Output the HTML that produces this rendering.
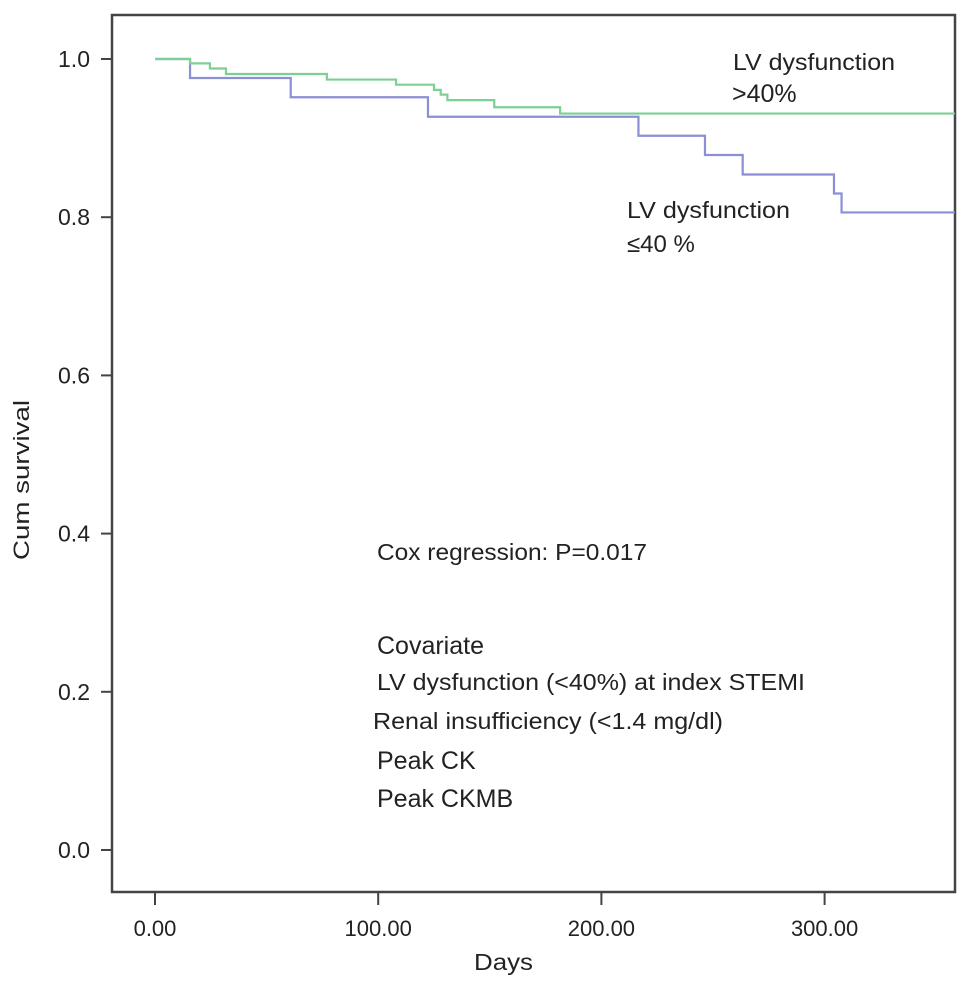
<!DOCTYPE html>
<html><head><meta charset="utf-8"><style>
body{margin:0;background:#fff;}
svg text{font-family:"Liberation Sans",Arial,sans-serif;fill:#222;}
</style></head><body>
<svg id="chart" width="972" height="985" viewBox="0 0 972 985" xmlns="http://www.w3.org/2000/svg">
<rect x="112" y="15" width="843" height="877" fill="none" stroke="#444" stroke-width="2.5"/>
<g id="yaxis"></g>
<g id="xaxis"></g>
<g id="series"></g>
<text transform="translate(29,480) rotate(-90)" text-anchor="middle" font-size="22" textLength="160" lengthAdjust="spacingAndGlyphs">Cum survival</text>
<text x="474" y="970" font-size="23" textLength="59" lengthAdjust="spacingAndGlyphs">Days</text>
<text x="733" y="70" font-size="23" textLength="162" lengthAdjust="spacingAndGlyphs">LV dysfunction</text>
<text x="732" y="102" font-size="25">&gt;40%</text>
<text x="627" y="218" font-size="23" textLength="163" lengthAdjust="spacingAndGlyphs">LV dysfunction</text>
<text x="627" y="252" font-size="24">≤40 %</text>
<text x="377" y="560" font-size="23" textLength="270" lengthAdjust="spacingAndGlyphs">Cox regression: P=0.017</text>
<text x="377" y="654" font-size="25">Covariate</text>
<text x="377" y="690" font-size="23" textLength="428" lengthAdjust="spacingAndGlyphs">LV dysfunction (&lt;40%) at index STEMI</text>
<text x="373" y="729" font-size="23" textLength="350" lengthAdjust="spacingAndGlyphs">Renal insufficiency (&lt;1.4 mg/dl)</text>
<text x="377" y="769" font-size="25">Peak CK</text>
<text x="377" y="807" font-size="25">Peak CKMB</text>
</svg>
<script>
const yTicks = [0.0, 0.2, 0.4, 0.6, 0.8, 1.0];
const yTickLabels = ["0.0", "0.2", "0.4", "0.6", "0.8", "1.0"];
const xTicks = [0, 100, 200, 300];
const xTickLabels = ["0.00", "100.00", "200.00", "300.00"];
const greenDays = [0, 15.7, 24.6, 31.8, 77, 108, 125, 128, 131, 152, 181.5, 358.4];
const greenSurv = [1.0, 0.9945, 0.988, 0.981, 0.974, 0.9675, 0.961, 0.955, 0.948, 0.939, 0.931, 0.931];
const blueDays = [0, 15.7, 60.8, 122.3, 216.6, 246.4, 263.3, 304.2, 307.6, 358.4];
const blueSurv = [1.0, 0.976, 0.9516, 0.927, 0.903, 0.8786, 0.854, 0.830, 0.806, 0.806];

const NS = "http://www.w3.org/2000/svg";
function xScale(d){ return 155 + d * 2.232; }
function yScale(v){ return 850 - v * 791; }

const ya = document.getElementById('yaxis');
yTicks.forEach((v, i) => {
  const l = document.createElementNS(NS, 'line');
  
  
  l.setAttribute('x1', 101); l.setAttribute('x2', 112);
  l.setAttribute('y1', yScale(v)); l.setAttribute('y2', yScale(v));
  l.setAttribute('stroke', '#444'); l.setAttribute('stroke-width', 2);
  ya.appendChild(l);
  const t = document.createElementNS(NS, 'text');
  
  
  t.setAttribute('x', 90); t.setAttribute('y', yScale(v) + 8);
  t.setAttribute('text-anchor', 'end'); t.setAttribute('font-size', 23);
  t.textContent = yTickLabels[i];
  ya.appendChild(t);
});
const xa = document.getElementById('xaxis');
xTicks.forEach((d, i) => {
  const l = document.createElementNS(NS, 'line');
  
  
  l.setAttribute('x1', xScale(d)); l.setAttribute('x2', xScale(d));
  l.setAttribute('y1', 892); l.setAttribute('y2', 905);
  l.setAttribute('stroke', '#444'); l.setAttribute('stroke-width', 2);
  xa.appendChild(l);
  const t = document.createElementNS(NS, 'text');
  
  
  t.setAttribute('x', xScale(d)); t.setAttribute('y', 936);
  t.setAttribute('text-anchor', 'middle'); t.setAttribute('font-size', 22);
  t.textContent = xTickLabels[i];
  xa.appendChild(t);
});
function stepPath(days, surv){
  let d = 'M' + xScale(days[0]) + ',' + yScale(surv[0]);
  for (let i = 1; i < days.length; i++) {
    d += ' H' + xScale(days[i]) + ' V' + yScale(surv[i]);
  }
  return d;
}
const sg = document.getElementById('series');
const pb = document.createElementNS(NS, 'path');


pb.setAttribute('d', stepPath(blueDays, blueSurv));
pb.setAttribute('fill', 'none'); pb.setAttribute('stroke', '#8a8fd6'); pb.setAttribute('stroke-width', 2.2);
sg.appendChild(pb);
const pg = document.createElementNS(NS, 'path');


pg.setAttribute('d', stepPath(greenDays, greenSurv));
pg.setAttribute('fill', 'none'); pg.setAttribute('stroke', '#7ccf95'); pg.setAttribute('stroke-width', 2.2);
sg.appendChild(pg);
</script>
</body></html>
